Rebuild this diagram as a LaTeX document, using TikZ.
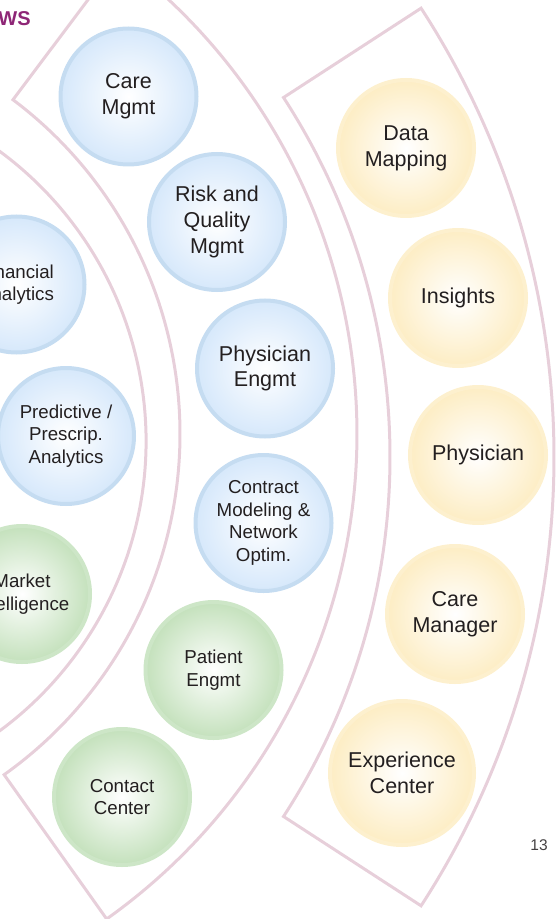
\documentclass[tikz,border=0pt]{standalone}
\usepackage{fontspec}
\setmainfont{Liberation Sans}
\usetikzlibrary{positioning}

\definecolor{ringC}{RGB}{231,207,218}
\definecolor{txtC}{RGB}{35,31,32}
\definecolor{titleC}{RGB}{142,38,118}
\definecolor{blueF}{RGB}{214,232,251}
\definecolor{blueB}{RGB}{197,220,241}
\definecolor{greenF}{RGB}{196,225,188}
\definecolor{greenB}{RGB}{205,230,199}
\definecolor{yelF}{RGB}{253,237,196}
\definecolor{yelB}{RGB}{253,240,206}

\tikzstyle{band}=[draw=ringC, line width=1.5pt, line join=miter]
\tikzstyle{nS}=[circle, minimum size=68pt, inner sep=0pt, line width=2pt, shading=radial, inner color=white, align=center, text=txtC]
\tikzstyle{fL}=[font=\fontsize{10.75}{12.85}\selectfont]
\tikzstyle{fS}=[font=\fontsize{9.35}{11.2}\selectfont]
\tikzstyle{nBlue}=[nS, draw=blueB, outer color=blueF]
\tikzstyle{nGreen}=[nS, draw=greenB, outer color=greenF]
\tikzstyle{nYel}=[nS, draw=yelB, outer color=yelF]

\begin{document}
\begin{tikzpicture}[x=0.5pt, y=-0.5pt]
    \useasboundingbox (0,0) rectangle (557,919);
    \clip (0,0) rectangle (557,919);

    % rings
    \draw[band] ([shift={(-214,441)}]-75:200) arc[start angle=-75, end angle=75, radius=200]
        -- ([shift={(-214,441)}]75:360) arc[start angle=75, end angle=-75, radius=360] -- cycle;
    \draw[band] ([shift={(-238,434)}]-53.1:418) arc[start angle=-53.1, end angle=54.6, radius=418]
        -- ([shift={(-238,434)}]54.6:595) arc[start angle=54.6, end angle=-53.1, radius=595] -- cycle;
    \draw[band] ([shift={(-270,457)}]-33:660) arc[start angle=-33, end angle=33, radius=660]
        -- ([shift={(-270,457)}]33:824) arc[start angle=33, end angle=-33, radius=824] -- cycle;

    \draw (-2,26) node[anchor=base west, inner sep=0pt, text=titleC, font=\bfseries\fontsize{10}{12}\selectfont] (title) {WS};

    \draw (16.5,284.5) node[nBlue, fS] (finAn) {Financial\\Analytics};
    \draw (66,436) node[nBlue, fS] (predAn) {Predictive /\\Prescrip.\\Analytics};
    \draw (22,594) node[nGreen, fS] (mktInt) {Market\\Intelligence};

    \draw (128.5,96.5) node[nBlue, fL] (careMgmt) {Care\\Mgmt};
    \draw (217,222) node[nBlue, fL] (riskQual) {Risk and\\Quality\\Mgmt};
    \draw (265,368.5) node[nBlue, fL] (physEng) {Physician\\Engmt};
    \draw (263.5,523) node[nBlue, fS] (contrMod) {Contract\\Modeling \&\\Network\\Optim.};
    \draw (213.5,670) node[nGreen, fS] (patEng) {Patient\\Engmt};
    \draw (122,797) node[nGreen, fS] (contCtr) {Contact\\Center};

    \draw (406,148) node[nYel, fL] (dataMap) {Data\\Mapping};
    \draw (458,298) node[nYel, fL] (insights) {Insights};
    \draw (478,455) node[nYel, fL] (physYel) {Physician};
    \draw (455,614) node[nYel, fL] (careMgr) {Care\\Manager};
    \draw (402,773) node[nYel, fL, minimum size=72pt] (expCtr) {Experience\\Center};

    \draw (539,845) node[text=txtC!85, font=\fontsize{7.75}{9}\selectfont] (pageNo) {13};
\end{tikzpicture}
\end{document}
